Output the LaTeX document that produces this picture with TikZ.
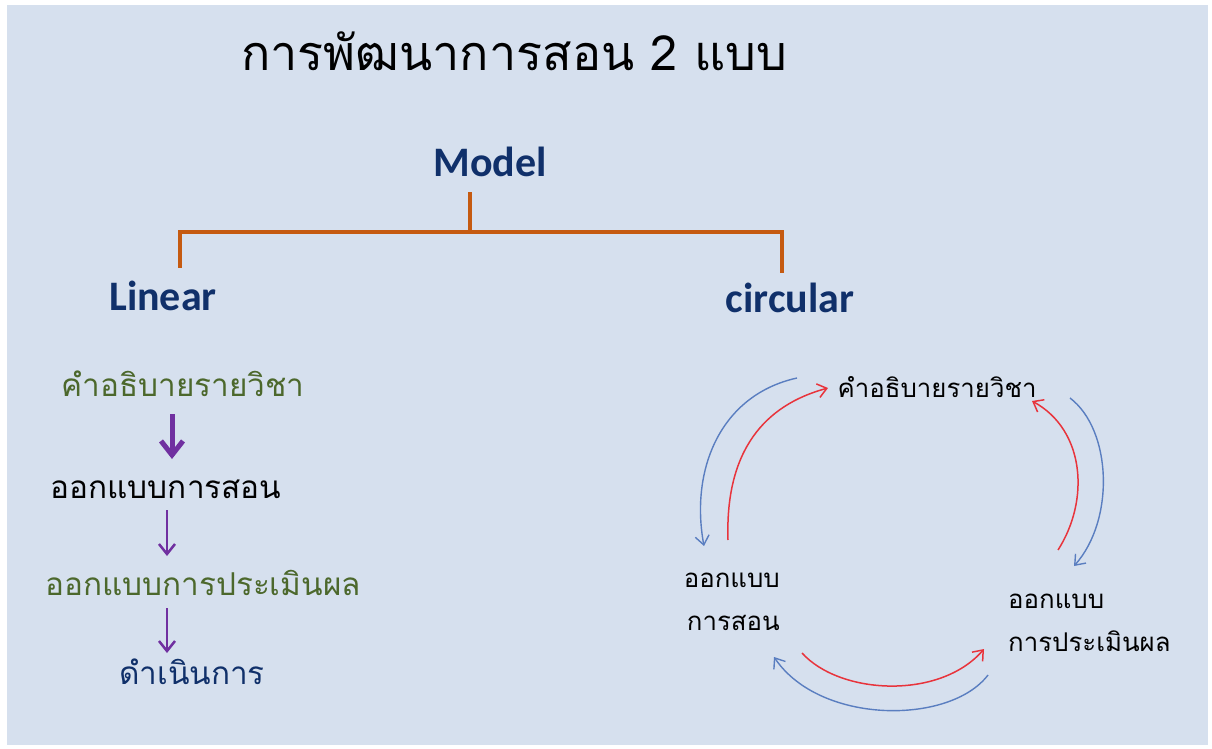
\documentclass[tikz,border=0pt]{standalone}
\usepackage{fontspec}
\usetikzlibrary{arrows.meta}
\newfontfamily\thaifnt[Script=Thai]{Loma}
\newfontfamily\calfnt{Carlito}
\definecolor{bgc}{HTML}{D6E0EE}
\definecolor{navy}{HTML}{10306A}
\definecolor{brk}{HTML}{C55A11}
\definecolor{olive}{RGB}{76,104,44}
\definecolor{purp}{HTML}{7030A0}
\definecolor{cblue}{HTML}{5A7EC0}
\definecolor{cred}{HTML}{E8343C}
\tikzset{
  title/.style={font=\thaifnt\fontsize{48.5}{52}\selectfont, text=black, inner sep=0pt, anchor=base},
  head/.style={font=\calfnt\bfseries\fontsize{42}{46}\selectfont, text=navy, inner sep=0pt, anchor=base},
  ltext/.style={font=\thaifnt\fontsize{31.5}{34}\selectfont, inner sep=0pt, anchor=base},
  rtext/.style={font=\thaifnt\fontsize{25.8}{43}\selectfont, inner sep=0pt, anchor=base, text=black},
  bracket/.style={draw=brk, line width=4pt},
  bigdown/.style={draw=purp, line width=5pt, -{Straight Barb[length=14pt,width=22pt,line width=5pt]}},
  thindown/.style={draw=purp, line width=2.5pt, -{Straight Barb[length=10pt,width=16pt,line width=2.5pt]}},
  bluearc/.style={draw=cblue, line width=1.4pt, -{Straight Barb[length=9pt,width=14pt,line width=1.4pt]}},
  redarc/.style={draw=cred, line width=1.5pt, -{Straight Barb[length=9pt,width=14pt,line width=1.5pt]}},
}
\begin{document}
\begin{tikzpicture}[x=1pt,y=-1pt]
\useasboundingbox (0,0) rectangle (1212,749);
\fill[white] (0,0) rectangle (1212,749);
\fill[bgc] (7,5) rectangle (1208,745);

\node[title] (title) at (514,71) {การพัฒนาการสอน 2 แบบ};
\node[head] (model) at (490,176) {Model};
\node[head] (linear) at (163,310) {Linear};
\node[head] (circ) at (790,312) {circular};

\coordinate (mtop) at (470,192);
\coordinate (mjoin) at (470,232);
\coordinate (bl) at (180,232);
\coordinate (br) at (782,232);
\coordinate (bld) at (180,266);
\coordinate (brd) at (782,271);
\draw[bracket] (mtop) -- (mjoin);
\draw[bracket, line cap=rect] (bld) -- (bl) -- (br) -- (brd);

% linear column
\node[ltext, text=olive] (l1) at (183,396) {คำอธิบายรายวิชา};
\node[ltext, text=black] (l2) at (166,498) {ออกแบบการสอน};
\node[ltext, text=olive] (l3) at (203,595) {ออกแบบการประเมินผล};
\node[ltext, text=navy] (l4) at (192,684) {ดำเนินการ};
\coordinate (a1s) at (172,414);
\coordinate (a1e) at (172,459);
\coordinate (a2s) at (167,510);
\coordinate (a2e) at (167,556);
\coordinate (a3s) at (167,608);
\coordinate (a3e) at (167,653);
\draw[bigdown] (a1s) -- (a1e);
\draw[thindown] (a2s) -- (a2e);
\draw[thindown] (a3s) -- (a3e);

% circular
\node[rtext] (c1) at (937,397) {คำอธิบายรายวิชา};
\node[rtext, align=right, anchor=base east] (c2) at (780,630) {ออกแบบ\\การสอน};
\node[rtext, align=left, anchor=base west] (c3) at (1008,651) {ออกแบบ\\การประเมินผล};

\coordinate (b1s) at (797,378);  \coordinate (b1e) at (704,546);
\coordinate (r1s) at (728,540);  \coordinate (r1e) at (828,388);
\coordinate (r2s) at (1058,550); \coordinate (r2e) at (1032,401);
\coordinate (b2s) at (1070,398); \coordinate (b2e) at (1074,566);
\coordinate (r3s) at (802,653);  \coordinate (r3e) at (984,649);
\coordinate (b3s) at (988,675);  \coordinate (b3e) at (774,657);

\draw[bluearc] (b1s) .. controls (720,395) and (690,470) .. (b1e);
\draw[redarc]  (r1s) .. controls (725,450) and (765,405) .. (r1e);
\draw[redarc]  (r2s) .. controls (1090,500) and (1085,430) .. (r2e);
\draw[bluearc] (b2s) .. controls (1112,430) and (1115,520) .. (b2e);
\draw[redarc]  (r3s) .. controls (840,695) and (940,700) .. (r3e);
\draw[bluearc] (b3s) .. controls (950,725) and (820,725) .. (b3e);
\end{tikzpicture}
\end{document}
